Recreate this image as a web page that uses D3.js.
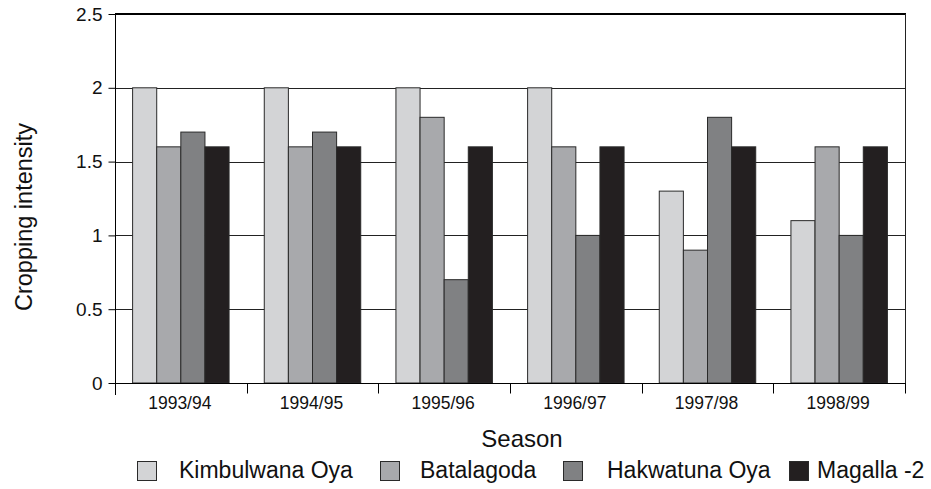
<!DOCTYPE html>
<html>
<head>
<meta charset="utf-8">
<script src="https://cdn.jsdelivr.net/npm/d3@7"></script>
<style>
  body { margin: 0; background: #fff; }
  text { font-family: "Liberation Sans", Arial, sans-serif; fill: #111; }
</style>
</head>
<body>
<svg id="chart" width="931" height="489"></svg>
<script>
var seasons = ["1993/94", "1994/95", "1995/96", "1996/97", "1997/98", "1998/99"];
var series = ["Kimbulwana Oya", "Batalagoda", "Hakwatuna Oya", "Magalla -2"];
var kimbulwana = [2, 2, 2, 2, 1.3, 1.1];
var batalagoda = [1.6, 1.6, 1.8, 1.6, 0.9, 1.6];
var hakwatuna = [1.7, 1.7, 0.7, 1.0, 1.8, 1.0];
var magalla = [1.6, 1.6, 1.6, 1.6, 1.6, 1.6];
var yTicks = [0, 0.5, 1, 1.5, 2, 2.5];

var colors = ["#d3d4d6", "#a8a9ac", "#808183", "#231f20"];
var legendX = [137, 380, 563, 789];
var legendTextX = [179, 420, 607, 817];

var values = [kimbulwana, batalagoda, hakwatuna, magalla];
var rows = seasons.map(function(s, i) {
    return {season: s, vals: series.map(function(name, j) {
        return {name: name, value: values[j][i], color: colors[j]};
    })};
});

var margin = {left: 115, right: 26, top: 14, bottom: 106};
var svg = d3.select("#chart");
var W = +svg.attr("width"), H = +svg.attr("height");
var x0 = margin.left, x1 = W - margin.right;
var yTop = margin.top, yBot = H - margin.bottom;

var x = d3.scaleBand().domain(seasons).range([x0, x1]);
var xi = d3.scaleBand().domain(series).range([0, x.bandwidth()])
    .paddingInner(0).paddingOuter(0.73);
var y = d3.scaleLinear().domain([0, 2.5]).range([yBot, yTop]);

// grid lines
svg.append("g").selectAll("line")
    .data(yTicks.filter(function(d) { return d > 0 && d < 2.5; }))
    .enter().append("line")
    .attr("x1", x0).attr("x2", x1)
    .attr("y1", function(d) { return Math.round(y(d)) + 0.5; })
    .attr("y2", function(d) { return Math.round(y(d)) + 0.5; })
    .attr("stroke", "#222").attr("stroke-width", 1);

// frame: top and right
svg.append("line").attr("x1", x0).attr("x2", x1 + 1)
    .attr("y1", y(2.5)).attr("y2", y(2.5))
    .attr("stroke", "#000").attr("stroke-width", 2);
svg.append("line").attr("x1", x1 + 0.5).attr("x2", x1 + 0.5)
    .attr("y1", y(2.5)).attr("y2", yBot)
    .attr("stroke", "#222").attr("stroke-width", 1);

// bars
var groups = svg.append("g").selectAll("g")
    .data(rows).enter().append("g")
    .attr("transform", function(d) { return "translate(" + x(d.season) + ",0)"; });

groups.selectAll("rect")
    .data(function(d) { return d.vals; })
    .enter().append("rect")
    .attr("x", function(d) { return xi(d.name); })
    .attr("width", xi.bandwidth())
    .attr("y", function(d) { return y(d.value); })
    .attr("height", function(d) { return yBot - y(d.value); })
    .attr("fill", function(d) { return d.color; })
    .attr("stroke", "#2a2a2a").attr("stroke-width", 1);

// y axis
var yAxis = svg.append("g")
    .attr("transform", "translate(" + (x0 + 0.5) + ",0)")
    .call(d3.axisLeft(y).tickValues(yTicks).tickSize(7).tickPadding(6)
        .tickFormat(function(d) { return String(d); }));
yAxis.select(".domain").attr("d", "M0," + y(2.5) + "V" + (yBot + 12)).attr("stroke", "#000");
yAxis.selectAll(".tick line").attr("stroke", "#000");
yAxis.selectAll("text").style("font-size", "19px").attr("fill", "#111");

// x axis
var xAxis = svg.append("g")
    .attr("transform", "translate(0," + (Math.round(yBot) + 0.5) + ")");
xAxis.append("line").attr("x1", x0).attr("x2", x1 + 1).attr("y1", 0).attr("y2", 0)
    .attr("stroke", "#000");
xAxis.selectAll(".sep")
    .data(seasons.slice(1).concat(["end"]))
    .enter().append("line")
    .attr("class", "sep")
    .attr("x1", function(d) { return d === "end" ? x1 + 0.5 : Math.round(x(d)) + 0.5; })
    .attr("x2", function(d) { return d === "end" ? x1 + 0.5 : Math.round(x(d)) + 0.5; })
    .attr("y1", 0).attr("y2", 10)
    .attr("stroke", "#000");
xAxis.selectAll(".lab")
    .data(seasons).enter().append("text")
    .attr("class", "lab")
    .attr("x", function(d) { return x(d) + x.bandwidth() / 2 - 1; })
    .attr("y", 25)
    .attr("text-anchor", "middle")
    .style("font-size", "17.5px")
    .text(function(d) { return d; });

// axis titles
svg.append("text")
    .attr("x", 522).attr("y", 447)
    .attr("text-anchor", "middle")
    .style("font-size", "24px")
    .text("Season");
svg.append("text")
    .attr("transform", "translate(32," + 217 + ") rotate(-90)")
    .attr("text-anchor", "middle")
    .style("font-size", "23.5px")
    .text("Cropping intensity");

// legend
var legend = svg.append("g").selectAll("g")
    .data(series).enter().append("g");
legend.append("rect")
    .attr("x", function(d, i) { return legendX[i] + 0.5; })
    .attr("y", 461.5)
    .attr("width", 19).attr("height", 19)
    .attr("fill", function(d, i) { return colors[i]; })
    .attr("stroke", "#2a2a2a").attr("stroke-width", 1);
legend.append("text")
    .attr("x", function(d, i) { return legendTextX[i]; })
    .attr("y", 478)
    .style("font-size", "23px")
    .text(function(d) { return d; });
</script>
</body>
</html>
